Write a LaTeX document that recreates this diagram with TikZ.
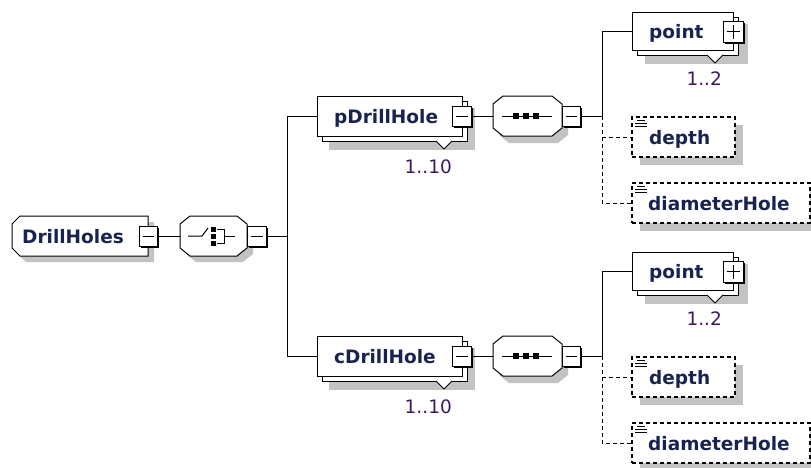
\documentclass[tikz,border=0pt]{standalone}
\usepackage{fontspec}
\setmainfont{DejaVu Sans}
\definecolor{nametext}{RGB}{25,35,80}
\definecolor{multtext}{RGB}{60,25,95}
\definecolor{shadowgray}{RGB}{195,195,195}
\tikzset{
  conn/.style={line width=1pt, draw=black},
  optconn/.style={line width=1pt, draw=black, dash pattern=on 4pt off 3pt},
  shadowfill/.style={fill=shadowgray, draw=none},
  facepath/.style={draw=black, fill=white, line width=1pt},
  boxface/.style={rectangle, draw=black, fill=white, line width=1pt, inner sep=0pt},
  optface/.style={rectangle, draw=black, fill=white, line width=1.2pt, dash pattern=on 4pt off 3pt, inner sep=0pt},
  hiddenbox/.style={rectangle, draw=none, inner sep=0pt, outer sep=0pt},
  nametxt/.style={font=\bfseries\fontsize{18.5}{22}\selectfont, text=nametext, inner sep=0pt, anchor=base west},
  multtxt/.style={font=\fontsize{18.5}{22}\selectfont, text=multtext, inner sep=0pt, anchor=base east},
  togglebox/.style={rectangle, draw=black, fill=white, line width=1pt, inner sep=0pt},
  iconline/.style={line width=1pt, draw=black},
}
\begin{document}
\begin{tikzpicture}[x=1pt,y=-1pt]
\useasboundingbox (0,0) rectangle (811,467);

% ---------- groups ----------
\foreach \g/\yc/\nm in {p/116/pDrillHole, c/356/cDrillHole}{
\begin{scope}[shift={(0,\yc)}]
  % element with multiplicity
  \fill[shadowfill] (329,-8) rectangle (475,34);
  \draw[facepath] (322,-15) rectangle (467,25);
  \filldraw[fill=white, iconline] (436,25) -- (444,33) -- (452,25);
  \node[boxface, minimum width=145, minimum height=40] (\g-elem) at (389.5,0) {};
  \node[nametxt] (\g-elemtxt) at (334,7) {\nm};
  \fill[black] (454,-8) rectangle (473,12);
  \node[togglebox, minimum width=19, minimum height=20] (\g-et) at (461.5,0) {};
  \draw[iconline] ([xshift=4]\g-et.west) -- ([xshift=-4]\g-et.east);
  \node[multtxt] (\g-mult) at (452,57) {1..10};
  % sequence compositor
  \fill[shadowfill] (509,-13) -- (558,-13) -- (568,-5) -- (568,19) -- (558,27) -- (509,27) -- (499,19) -- (499,-5) -- cycle;
  \draw[facepath] (503,-20) -- (552,-20) -- (562,-12) -- (562,12) -- (552,20) -- (503,20) -- (493,12) -- (493,-12) -- cycle;
  \node[hiddenbox, minimum width=69, minimum height=40] (\g-seq) at (527.5,0) {};
  \draw[iconline] (502,0) -- (552,0);
  \fill[black] (513,-3) rectangle (519,3);
  \fill[black] (523,-3) rectangle (529,3);
  \fill[black] (533,-3) rectangle (539,3);
  \fill[black] (564,-8) rectangle (582,12);
  \node[togglebox, minimum width=18, minimum height=20] (\g-st) at (571,0) {};
  \draw[iconline] ([xshift=4]\g-st.west) -- ([xshift=-4]\g-st.east);
  % point
  \fill[shadowfill] (645,-92) rectangle (748,-52);
  \draw[facepath] (637,-99) rectangle (738,-61);
  \filldraw[fill=white, iconline] (707,-61) -- (715,-53) -- (723,-61);
  \node[boxface, minimum width=101, minimum height=38] (\g-pt) at (682.5,-85) {};
  \node[nametxt] (\g-pttxt) at (649,-78) {point};
  \fill[black] (725,-93) rectangle (745,-72);
  \node[togglebox, minimum width=20, minimum height=21] (\g-ptt) at (733,-84.5) {};
  \draw[iconline] ([xshift=4]\g-ptt.west) -- ([xshift=-4]\g-ptt.east);
  \draw[iconline] ([yshift=4]\g-ptt.south) -- ([yshift=-4]\g-ptt.north);
  \node[multtxt] (\g-ptmult) at (722,-31) {1..2};
  % depth
  \fill[shadowfill] (640,9) rectangle (743,49);
  \node[optface, minimum width=103, minimum height=40] (\g-depth) at (683.5,21) {};
  \draw[iconline] (637,4.5) -- (645,4.5);
  \draw[iconline] (635,7.5) -- (647,7.5);
  \draw[iconline] (635,10.5) -- (647,10.5);
  \node[nametxt] (\g-depthtxt) at (649,28) {depth};
  % diameterHole
  \fill[shadowfill] (640,75) rectangle (818,115);
  \node[optface, minimum width=178, minimum height=40] (\g-diam) at (721,87) {};
  \draw[iconline] (637,70.5) -- (645,70.5);
  \draw[iconline] (635,73.5) -- (647,73.5);
  \draw[iconline] (635,76.5) -- (647,76.5);
  \node[nametxt] (\g-diamtxt) at (648,94) {diameterHole};
  % connectors
  \coordinate (\g-bpt) at (602,-85);
  \coordinate (\g-bseq) at (602,0);
  \coordinate (\g-bdiam) at (602,87);
  \draw[conn] (\g-et.east) -- (\g-seq.west);
  \draw[conn] (\g-st.east) -- (\g-bseq);
  \draw[conn] (\g-bseq) -- (\g-bpt) -- (\g-pt.west);
  \draw[optconn] (\g-bseq) -- (\g-bdiam) -- (\g-diam.west);
  \draw[optconn] (\g-bseq |- \g-depth.west) -- (\g-depth.west);
\end{scope}
}

% ---------- root element ----------
\fill[shadowfill] (26,222) -- (154,222) -- (154,262) -- (26,262) -- (18,254) -- (18,230) -- cycle;
\draw[facepath] (20,216) -- (148,216) -- (148,256) -- (20,256) -- (12,248) -- (12,224) -- cycle;
\node[hiddenbox, minimum width=136, minimum height=40] (root) at (80,236) {};
\node[nametxt] (roottxt) at (22,243) {DrillHoles};
\fill[black] (141,228) rectangle (159,248);
\node[togglebox, minimum width=18, minimum height=20] (rt) at (148,236) {};
\draw[iconline] ([xshift=4]rt.west) -- ([xshift=-4]rt.east);

% ---------- choice compositor ----------
\fill[shadowfill] (196,222) -- (243,222) -- (253,230) -- (253,254) -- (243,262) -- (196,262) -- (186,254) -- (186,230) -- cycle;
\draw[facepath] (190,216) -- (237,216) -- (247,224) -- (247,248) -- (237,256) -- (190,256) -- (180,248) -- (180,224) -- cycle;
\node[hiddenbox, minimum width=67, minimum height=40] (choice) at (213.5,236) {};
\draw[iconline] (188,236) -- (202,236) -- (208,228);
\fill[black] (210.5,226.5) rectangle (215.5,231.5);
\fill[black] (210.5,233.5) rectangle (215.5,238.5);
\fill[black] (210.5,240.5) rectangle (215.5,245.5);
\draw[iconline] (217,229) -- (224,229) -- (224,243) -- (217,243);
\draw[iconline] (224,236) -- (235,236);
\fill[black] (249,228) rectangle (268,248);
\node[togglebox, minimum width=19, minimum height=20] (ct) at (256.5,236) {};
\draw[iconline] ([xshift=4]ct.west) -- ([xshift=-4]ct.east);

% ---------- root connectors ----------
\coordinate (bustop) at (287,116);
\coordinate (busmid) at (287,236);
\coordinate (busbot) at (287,356);
\draw[conn] (rt.east) -- (choice.west);
\draw[conn] (ct.east) -- (busmid);
\draw[conn] (bustop) -- (busbot);
\draw[conn] (bustop) -- (p-elem.west);
\draw[conn] (busbot) -- (c-elem.west);
\end{tikzpicture}
\end{document}
